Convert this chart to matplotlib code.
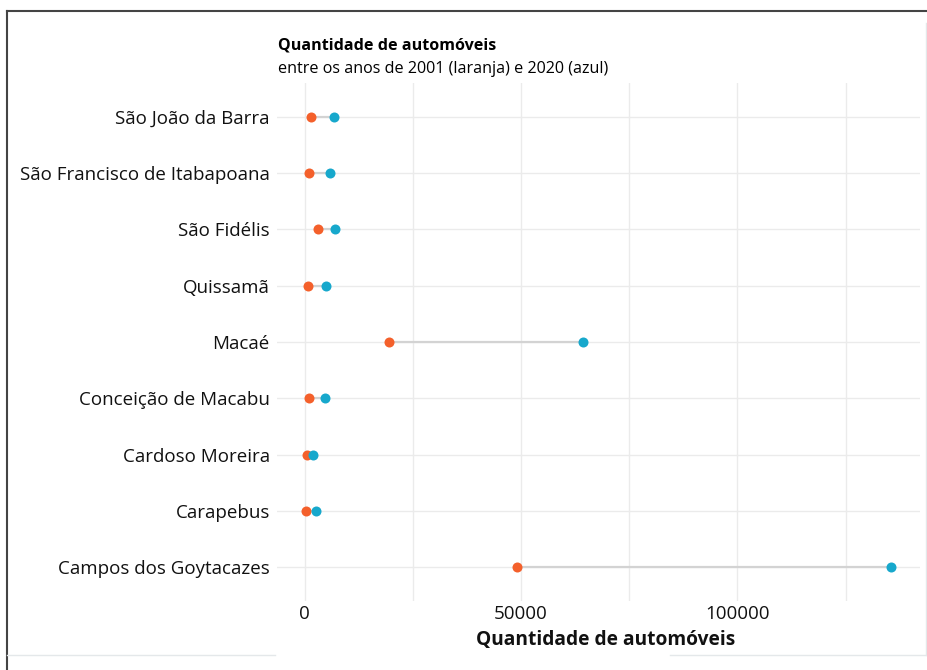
import matplotlib
matplotlib.use("Agg")
import matplotlib.pyplot as plt
from matplotlib.lines import Line2D

municipios = ["Campos dos Goytacazes", "Carapebus", "Cardoso Moreira",
              "Conceição de Macabu", "Macaé", "Quissamã", "São Fidélis",
              "São Francisco de Itabapoana", "São João da Barra"]
carros_2001 = [49000, 350, 500, 1100, 19500, 900, 3000, 1100, 1500]
carros_2020 = [135400, 2700, 2000, 4700, 64300, 4900, 7100, 6000, 6700]
xticks = [0, 50000, 100000]
xticks_minor = [25000, 75000, 125000]

titulo = "Quantidade de automóveis"
subtitulo = "entre os anos de 2001 (laranja) e 2020 (azul)"
xlabel = "Quantidade de automóveis"

plt.rcParams['font.family'] = ['Open Sans', 'DejaVu Sans']

W, H = 927, 670
fig = plt.figure(figsize=(W/100, H/100), dpi=100)
ax = fig.add_axes([276.8/W, 1-600.75/H, (920-276.8)/W, (600.75-83.25)/H])

orange = "#F4602B"
blue = "#17A8CC"
ypos = list(range(len(municipios)))

for y, a, b in zip(ypos, carros_2001, carros_2020):
    ax.plot([a, b], [y, y], color="#d3d3d3", lw=1.6, zorder=2, solid_capstyle="butt")
ax.scatter(carros_2001, ypos, s=52, color=orange, zorder=3, linewidths=0)
ax.scatter(carros_2020, ypos, s=52, color=blue, zorder=3, linewidths=0)

ax.set_ylim(-0.6, len(municipios) - 0.4)
ax.set_yticks(ypos)
ax.set_yticklabels(municipios, fontsize=13.5, color="#111111")
ax.set_xticks(xticks)
ax.set_xticklabels([str(v) for v in xticks], fontsize=13.5, color="#111111")
ax.set_xticks(xticks_minor, minor=True)
ax.tick_params(axis="both", which="both", length=0)
ax.tick_params(axis="y", pad=5)
ax.tick_params(axis="x", pad=3)
ax.grid(True, which="both", color="#ebebeb", lw=1.0, zorder=0)
ax.set_axisbelow(True)
for s in ax.spines.values():
    s.set_visible(False)
ax.set_xlabel(xlabel, fontsize=13.8, fontweight="bold", color="#111111")
ax.xaxis.set_label_coords((606-276.8)/643.2, -(640-600.75)/517.5)
ax.xaxis.label.set_va("center")

fig.text(278/W, 1-45/H, titulo, fontsize=11.6, fontweight="bold", va="center", ha="left")
fig.text(278/W, 1-69/H, subtitulo, fontsize=11.6, va="center", ha="left")

# frame of the screenshot
fig.add_artist(Line2D([7/W, 7/W], [0, 1-11/H], color="#444444", lw=1.5))
fig.add_artist(Line2D([7/W, 1], [1-11/H, 1-11/H], color="#444444", lw=1.5))
fig.add_artist(Line2D([926/W, 926/W], [1-655/H, 1-23/H], color="#e4e8ea", lw=1))
fig.add_artist(Line2D([7/W, 275/W], [1-655/H, 1-655/H], color="#e4e8ea", lw=1))
fig.add_artist(Line2D([670/W, 926/W], [1-655/H, 1-655/H], color="#e4e8ea", lw=1))

fig.savefig("out.png", dpi=100, facecolor="white")
